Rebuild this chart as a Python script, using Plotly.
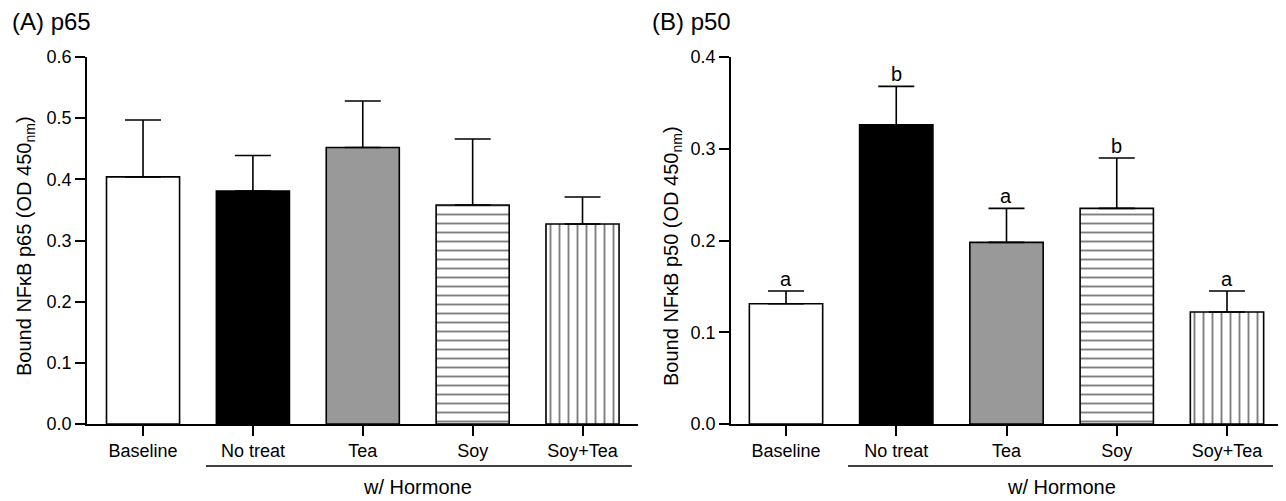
import plotly.graph_objects as go

categories = ["Baseline", "No treat", "Tea", "Soy", "Soy+Tea"]

p65_mean = [0.404, 0.381, 0.452, 0.358, 0.327]
p65_err = [0.093, 0.058, 0.076, 0.108, 0.044]

p50_mean = [0.131, 0.326, 0.198, 0.235, 0.122]
p50_err = [0.014, 0.042, 0.037, 0.055, 0.023]
p50_letters = ["a", "b", "a", "b", "a"]

fills = ["white", "black", "#999999", "white", "white"]
patterns = ["", "", "", "-", "|"]

FONT = "Liberation Sans, Arial, Helvetica, sans-serif"
W, H = 1286, 501
OFF = 8  # page body margin


def px(x):
    return (x - OFF) / W


def py(y):
    return 1 - (y - OFF) / H


fig = go.Figure()


def add_panel(means, errs, xa, ya):
    for i in range(len(categories)):
        marker = dict(color=fills[i], line=dict(color="black", width=1.6))
        if patterns[i]:
            marker["pattern"] = dict(shape=patterns[i], fgcolor="black", bgcolor="white",
                                     size=9, solidity=0.21)
        fig.add_trace(go.Bar(
            x=[i], y=[means[i]], width=0.665, marker=marker,
            error_y=dict(type="data", array=[errs[i]], arrayminus=[0], symmetric=False,
                         color="black", thickness=1.6, width=18),
            xaxis=xa, yaxis=ya, showlegend=False, hoverinfo="skip",
        ))


add_panel(p65_mean, p65_err, "x", "y")
add_panel(p50_mean, p50_err, "x2", "y2")

ydom = [py(424), py(57)]
axis_common = dict(showline=True, linecolor="black", linewidth=1.6, ticks="outside",
                   ticklen=10, tickwidth=1.6, tickcolor="black", showgrid=False,
                   zeroline=False, automargin=False,
                   tickfont=dict(family=FONT, size=18, color="black"))

fig.update_layout(
    width=W, height=H, margin=dict(l=0, r=0, t=0, b=0, autoexpand=False),
    plot_bgcolor="white", paper_bgcolor="white", barmode="overlay",
    font=dict(family=FONT, color="black"),
    xaxis=dict(domain=[px(87), px(638)], range=[-0.51, 4.505], tickmode="array",
               tickvals=list(range(5)), ticktext=categories, anchor="y", **axis_common),
    yaxis=dict(domain=ydom, range=[0, 0.6], tickmode="array",
               tickvals=[0, 0.1, 0.2, 0.3, 0.4, 0.5, 0.6],
               ticktext=["0.0", "0.1", "0.2", "0.3", "0.4", "0.5", "0.6"], anchor="x",
               **axis_common),
    xaxis2=dict(domain=[px(731), px(1283)], range=[-0.499, 4.508], tickmode="array",
                tickvals=list(range(5)), ticktext=categories, anchor="y2", **axis_common),
    yaxis2=dict(domain=ydom, range=[0, 0.4], tickmode="array",
                tickvals=[0, 0.1, 0.2, 0.3, 0.4],
                ticktext=["0.0", "0.1", "0.2", "0.3", "0.4"], anchor="x2",
                **axis_common),
)

ann = []
ann.append(dict(text="(A) p65", x=px(10), y=py(22), xref="paper", yref="paper",
                xanchor="left", yanchor="middle", showarrow=False,
                font=dict(family=FONT, size=24)))
ann.append(dict(text="(B) p50", x=px(650), y=py(22), xref="paper", yref="paper",
                xanchor="left", yanchor="middle", showarrow=False,
                font=dict(family=FONT, size=24)))
ann.append(dict(text="Bound NFκB p65 (OD 450<sub>nm</sub>)", x=px(25), y=py(246),
                xref="paper", yref="paper", textangle=-90, showarrow=False,
                xanchor="center", yanchor="middle", font=dict(family=FONT, size=20)))
ann.append(dict(text="Bound NFκB p50 (OD 450<sub>nm</sub>)", x=px(672), y=py(256),
                xref="paper", yref="paper", textangle=-90, showarrow=False,
                xanchor="center", yanchor="middle", font=dict(family=FONT, size=20)))
ann.append(dict(text="w/ Hormone", x=2.5, xref="x", y=py(487), yref="paper",
                showarrow=False, xanchor="center", yanchor="middle",
                font=dict(family=FONT, size=20)))
ann.append(dict(text="w/ Hormone", x=2.5, xref="x2", y=py(487), yref="paper",
                showarrow=False, xanchor="center", yanchor="middle",
                font=dict(family=FONT, size=20)))
for i, letter in enumerate(p50_letters):
    ann.append(dict(text=letter, x=i, y=p50_mean[i] + p50_err[i], xref="x2", yref="y2",
                    showarrow=False, xanchor="center", yanchor="bottom", yshift=-1,
                    font=dict(family=FONT, size=20)))
fig.update_layout(annotations=ann)

line_y = py(466)
fig.add_shape(type="line", xref="x", yref="paper", x0=0.573, x1=4.449, y0=line_y, y1=line_y,
              line=dict(color="black", width=1.6))
fig.add_shape(type="line", xref="x2", yref="paper", x0=0.562, x1=4.417, y0=line_y, y1=line_y,
              line=dict(color="black", width=1.6))

fig.write_html("out.html")
